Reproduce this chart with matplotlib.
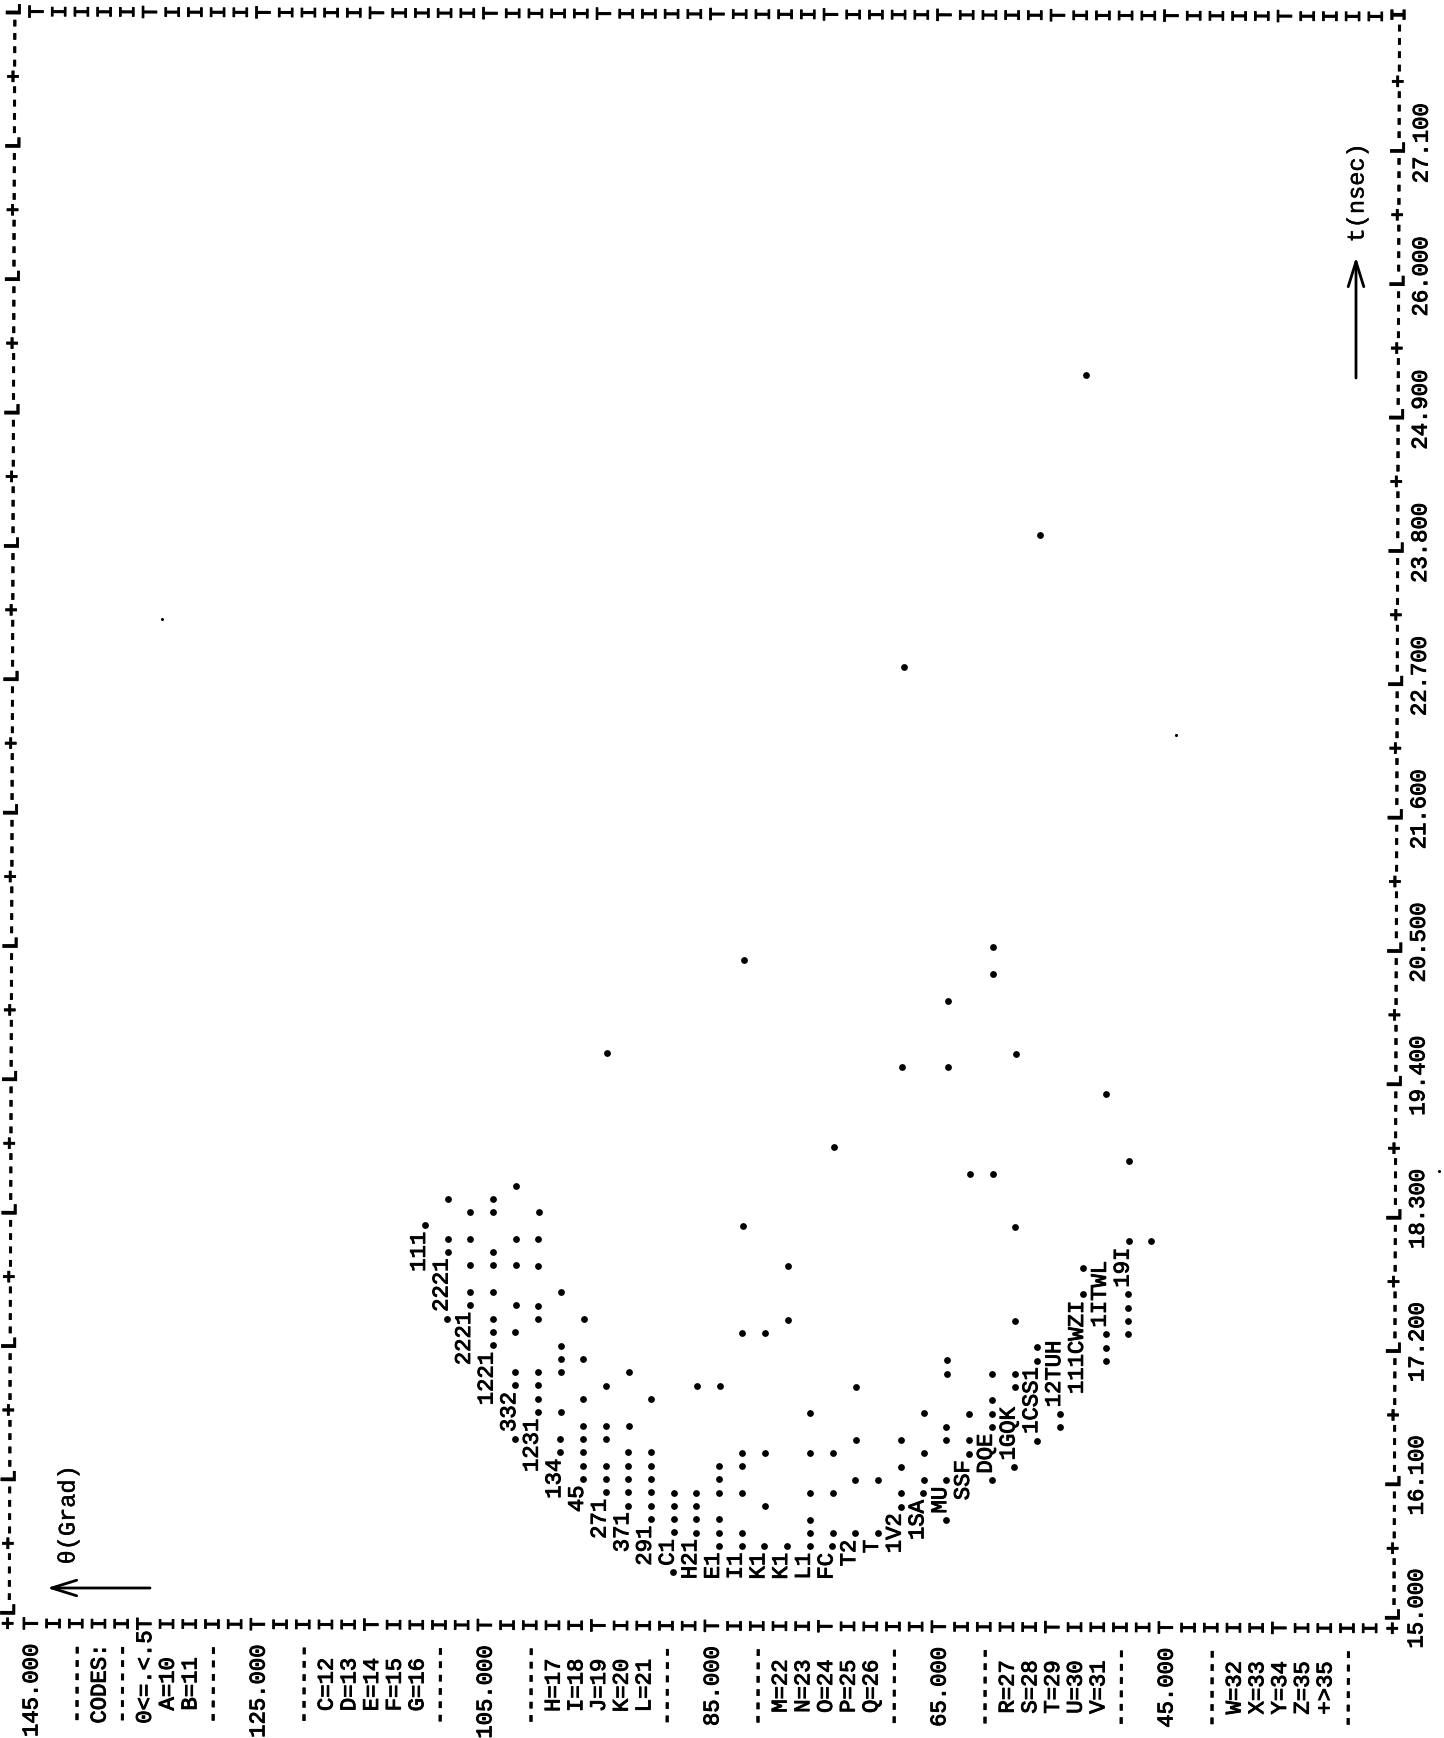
import matplotlib
matplotlib.use("Agg")
import matplotlib.pyplot as plt
import matplotlib.patheffects as pe
from matplotlib.transforms import Affine2D

# ---- printed plot body: one row per printer line ('.' = dot, others = count code)
row_theta = [111, 109, 107, 105, 103, 101, 99, 97, 95, 93, 91, 89, 87, 85, 83, 81, 79,
             77, 75, 73, 71, 69, 67, 65, 63, 61, 59, 57, 55, 53, 51, 49, 47]
row_t0 = [17.86, 17.42, 17.09, 16.76, 16.43, 16.21, 15.99, 15.88, 15.66, 15.55, 15.44,
          15.33, 15.33, 15.33, 15.33, 15.33, 15.33, 15.33, 15.33, 15.44, 15.55, 15.55,
          15.66, 15.77, 15.99, 16.10, 16.21, 16.43, 16.54, 16.87, 17.09, 17.31, 18.08]
row_codes = [
    "111.",
    ".2221..  .",
    "2221.. . . .",
    "1221... . ..  ..",
    ".332..  . .  . .   .",
    "1231....   ..  . . .",
    "134.. .  ...   .",
    "45..... .  .  .",
    "271... ..  .",
    "371..... .   .",
    "291......   .",
    ".C1....",
    "H21....       .",
    "E1... ...     .",
    "I1..  . ..        .       .",
    "K1.  .   .        .",
    "K1.                .   .",
    "L1... .  .  .",
    "FC..  .  .",
    "T2.   .  .   .",
    "T.   .",
    "1V2.. . .",
    "1SA.. .  .",
    ".MU.  ..   ..",
    "SSF.. .",
    ".DQE... .",
    ".1GQK ..   .      .",
    ".1CSS1..",
    "..12TUH",
    "111CWZI. .",
    "...1ITWL",
    "....19I.",
    ".",
]
T_STEP = 0.11

# isolated single-count points
lone_theta = [61, 83, 61, 65, 95, 59, 69, 65, 51, 75, 49, 63, 61, 53, 57, 69]
lone_t = [20.50, 20.39, 20.28, 20.06, 19.62, 19.62, 19.51, 19.51, 19.29, 18.85,
          18.74, 18.63, 18.63, 25.23, 23.91, 22.81]

# faint specks on the scanned page
speck_theta = [134.4, 45.0, 21.7]
speck_t = [23.19, 22.26, 18.67]

# ---- axis labelling
theta_tick_values = [145, 125, 105, 85, 65, 45]
theta_tick_labels = ["145.000", "125.000", "105.000", "85.000", "65.000", "45.000"]
t_tick_values = [15.0, 16.1, 17.2, 18.3, 19.4, 20.5, 21.6, 22.7, 23.8, 24.9, 26.0, 27.1]
t_tick_labels = ["15.000", "16.100", "17.200", "18.300", "19.400", "20.500",
                 "21.600", "22.700", "23.800", "24.900", "26.000", "27.100"]

# ---- legend column of the print-out
legend_theta = [139, 135, 133, 131, 119, 117, 115, 113, 111, 99, 97, 95, 93, 91,
                79, 77, 75, 73, 71, 59, 57, 55, 53, 51, 39, 37, 35, 33, 31]
legend_text = ["CODES:", "0<=.<.5", "A=10", "B=11", "C=12", "D=13", "E=14", "F=15", "G=16",
               "H=17", "I=18", "J=19", "K=20", "L=21", "M=22", "N=23", "O=24", "P=25", "Q=26",
               "R=27", "S=28", "T=29", "U=30", "V=31", "W=32", "X=33", "Y=34", "Z=35", "+>35"]
rule_theta = [141, 137, 129, 121, 109, 101, 89, 81, 69, 61, 49, 41, 29]

W, H, DPI = 1444, 1738, 100
PX_T = 121.1      # pixels per nsec
PX_TH = 11.35     # pixels per degree

fig = plt.figure(figsize=(W / DPI, H / DPI), dpi=DPI, facecolor="white")
ax = fig.add_axes([0, 0, 1, 1])
ax.set_xlim(145 + 31 / PX_TH, 145 - (W - 31) / PX_TH)
ax.set_ylim(15 - (H - 1615) / PX_T, 15 + 1615 / PX_T)
ax.axis("off")
fig.canvas.draw()

# the page was scanned slightly askew; printed characters sit on a baseline
SX, SY = 0.0035, 0.0036
page = (Affine2D().translate(-1397, -(H - 1625))
        + Affine2D.from_values(1, -SY, SX, 1, 0, 0)
        + Affine2D().translate(1397, H - 1625))
base = ax.transData + Affine2D().translate(6.7, 0) + page
ROT = 89.8
THIN = [pe.withStroke(linewidth=0.7, foreground="black")]
RULE = [pe.withStroke(linewidth=0.3, foreground="black")]


def printed(theta, t, s, ha="left", heavy=False):
    ax.text(theta, t, s, transform=base, rotation=ROT, rotation_mode="anchor",
            ha=ha, va="baseline", clip_on=False, family="Liberation Mono", fontsize=16,
            weight="bold" if heavy else "normal", color="black",
            path_effects=RULE if heavy else THIN)


# body of the plot
dots_x, dots_y = [], []
for th, t0, codes in zip(row_theta, row_t0, row_codes):
    run = ""
    start = 0
    for i, ch in enumerate(codes + " "):
        if ch not in " .":
            if not run:
                start = i
            run += ch
        else:
            if run:
                printed(th, t0 + (start - 0.5) * T_STEP, run)
                run = ""
            if ch == ".":
                dots_x.append(th)
                dots_y.append(t0 + i * T_STEP)
ax.scatter(dots_x + lone_theta, dots_y + lone_t, s=24, c="black", linewidths=0,
           transform=base, clip_on=False)
ax.scatter(speck_theta, speck_t, s=5, c="black", linewidths=0, transform=base, clip_on=False)

# frame: vertical rulers of printed characters
ruler = "+" + "".join("L" if m % 10 == 0 else "+" if m % 10 == 5 else "-" for m in range(0, 120))
T_BOTTOM, T_TOP = 15 - T_STEP, 15 + 120 * T_STEP
printed(147, T_BOTTOM - 0.5 * T_STEP, ruler + "L", heavy=True)
printed(25, T_BOTTOM - 0.5 * T_STEP, ruler + "I", heavy=True)

# frame: rows of I / T marks
for th in range(145, 26, -2):
    mark = "T" if (145 - th) % 10 == 0 else "I"
    printed(th, T_BOTTOM, mark, ha="center")
    printed(th, T_TOP, mark, ha="center")

# tick labels
for th, lab in zip(theta_tick_values, theta_tick_labels):
    printed(th, 15 - 2.5 * T_STEP, lab, ha="right")
for t, lab in zip(t_tick_values, t_tick_labels):
    printed(23, t + 0.5 * T_STEP, lab, ha="center")

# legend column
for th, lab in zip(legend_theta, legend_text):
    if lab in ("CODES:", "0<=.<.5"):
        printed(th, 15 - 8.5 * T_STEP, lab)
    else:
        printed(th, 15 - 7.5 * T_STEP, lab)
for th in rule_theta:
    printed(th, 15 - 8.5 * T_STEP, "------", heavy=True)


# hand-drawn axis captions
def frac(x, y):
    return x / W, 1 - y / H


arrow = dict(arrowstyle="->,head_length=0.9,head_width=0.28", lw=2.0, color="black",
             shrinkA=0, shrinkB=0, mutation_scale=20)
ax.annotate("", xy=frac(47, 1588), xytext=frac(150, 1588), xycoords="axes fraction",
            textcoords="axes fraction", arrowprops=arrow)
ax.annotate("", xy=frac(1356, 257), xytext=frac(1356, 378), xycoords="axes fraction",
            textcoords="axes fraction", arrowprops=arrow)
ax.text(*frac(68, 1515), "θ(Grad)", transform=ax.transAxes, rotation=90, ha="center", va="center",
        family="Liberation Mono", fontsize=17, color="black", path_effects=RULE)
ax.text(*frac(1357, 193), "t(nsec)", transform=ax.transAxes, rotation=90, ha="center", va="center",
        family="Liberation Mono", fontsize=17, color="black", path_effects=RULE)

fig.savefig("out.png", dpi=DPI, facecolor="white")
